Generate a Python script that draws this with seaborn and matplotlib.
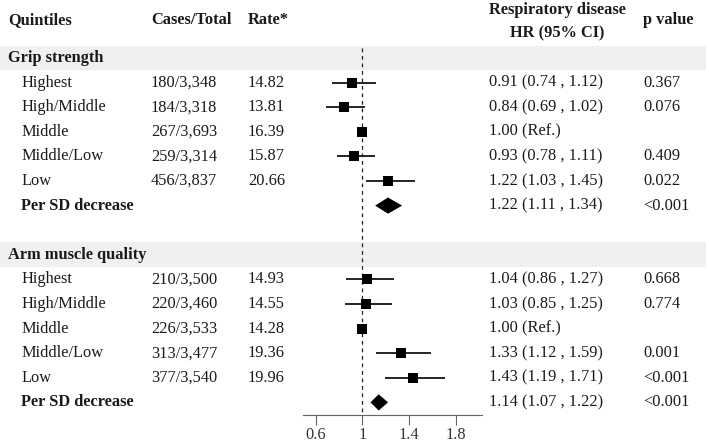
import numpy as np
import pandas as pd
import matplotlib
matplotlib.use("Agg")
import matplotlib.pyplot as plt
import matplotlib.transforms as mtransforms
from matplotlib.patches import Rectangle
import seaborn as sns

# data
sections = ["Grip strength", "Arm muscle quality"]
quintiles = ["Highest", "High/Middle", "Middle", "Middle/Low", "Low", "Per SD decrease"]

grip_cases = ["180/3,348", "184/3,318", "267/3,693", "259/3,314", "456/3,837", ""]
grip_rate = ["14.82", "13.81", "16.39", "15.87", "20.66", ""]
grip_hr = [0.91, 0.84, 1.00, 0.93, 1.22, 1.22]
grip_lo = [0.74, 0.69, 1.00, 0.78, 1.03, 1.11]
grip_hi = [1.12, 1.02, 1.00, 1.11, 1.45, 1.34]
grip_p = ["0.367", "0.076", "", "0.409", "0.022", "<0.001"]

arm_cases = ["210/3,500", "220/3,460", "226/3,533", "313/3,477", "377/3,540", ""]
arm_rate = ["14.93", "14.55", "14.28", "19.36", "19.96", ""]
arm_hr = [1.04, 1.03, 1.00, 1.33, 1.43, 1.14]
arm_lo = [0.86, 0.85, 1.00, 1.12, 1.19, 1.07]
arm_hi = [1.27, 1.25, 1.00, 1.59, 1.71, 1.22]
arm_p = ["0.668", "0.774", "", "0.001", "<0.001", "<0.001"]

xticks = [0.6, 1, 1.4, 1.8]

rows = []
for k, (cases, rate, hr, lo, hi, p) in enumerate([
        (grip_cases, grip_rate, grip_hr, grip_lo, grip_hi, grip_p),
        (arm_cases, arm_rate, arm_hr, arm_lo, arm_hi, arm_p)]):
    for i in range(6):
        rows.append(dict(section=sections[k], row=k * 8 + 1 + i, label=quintiles[i],
                         cases=cases[i], rate=rate[i], hr=hr[i], lo=lo[i], hi=hi[i],
                         p=p[i], summary=(i == 5)))
df = pd.DataFrame(rows)

sns.set_theme(style="white")
plt.rcParams['font.family'] = ['Liberation Serif', 'DejaVu Serif']
fs = 11.8

W, H = 709, 444
fig = plt.figure(figsize=(W / 100, H / 100), dpi=100)
ax_px = (303, 482, 415)  # left, right, bottom of forest axis in pixels
ax = fig.add_axes([ax_px[0] / W, 1 - ax_px[2] / H, (ax_px[1] - ax_px[0]) / W, ax_px[2] / H])
ax.patch.set_visible(False)
y0, step = 58, 24.6
x_per_px = 0.4 / 46.8
ax.set_xlim(1 - (362.3 - ax_px[0]) * x_per_px, 1 + (ax_px[1] - 362.3) * x_per_px)
ax.set_ylim((ax_px[2] - y0) / step, -y0 / step)

def py(pix):
    return (pix - y0) / step

tr = mtransforms.blended_transform_factory(fig.transFigure, ax.transData)

# grey section bands
for k in range(2):
    fig.add_artist(Rectangle((0, k * 8 - 0.5), 706 / W, 1.0, transform=tr,
                             facecolor="#eff1f0", edgecolor="none", zorder=-5))

# reference line
ax.vlines(1, py(48), py(413), colors="#222222", linestyles=(0, (3, 3)), linewidth=0.9)

pts = df[~df.summary]
ax.hlines(pts.row, pts.lo, pts.hi, colors="black", linewidth=1.2)
sns.scatterplot(data=pts, x="hr", y="row", marker="s", s=42, color="black",
                edgecolor="black", linewidth=0, ax=ax, legend=False, zorder=3)

for _, r in df[df.summary].iterrows():
    ax.fill([r.lo, r.hr, r.hi, r.hr], [r.row, r.row - 0.33, r.row, r.row + 0.33],
            color="black", lw=0)

# axis
sns.despine(ax=ax, left=True, top=True, right=True)
ax.set_yticks([])
ax.set_xticks(xticks)
ax.set_xticklabels(["0.6", "1", "1.4", "1.8"], fontsize=fs)
ax.tick_params(axis="x", bottom=True, direction="out", length=7.5, width=0.8,
               colors="#666666", labelcolor="#333333", pad=1)
ax.spines["bottom"].set_color("#666666")
ax.spines["bottom"].set_linewidth(0.8)
ax.set_xlabel("")
ax.set_ylabel("")

def put(xpix, y, s, **kw):
    ax.text(xpix / W, y, s, transform=tr, fontsize=fs, va="center", clip_on=False,
            color="#1a1a1a", **kw)

# header
put(8, py(20), "Quintiles", fontweight="bold")
put(151, py(20), "Cases/Total", fontweight="bold")
put(248, py(20), "Rate*", fontweight="bold")
put(557, py(10), "Respiratory disease", fontweight="bold", ha="center")
put(557, py(33), "HR (95% CI)", fontweight="bold", ha="center")
put(643, py(20), "p value", fontweight="bold")

for k, sec in enumerate(sections):
    put(8, k * 8, sec, fontweight="bold")

for _, r in df.iterrows():
    put(21, r.row, r.label, fontweight="bold" if r.summary else "normal")
    put(151, r.row, r.cases)
    put(248, r.row, r.rate)
    if r.lo == r.hi:
        hr_txt = f"{r.hr:.2f} (Ref.)"
    else:
        hr_txt = f"{r.hr:.2f} ({r.lo:.2f} , {r.hi:.2f})"
    put(489, r.row, hr_txt)
    put(643, r.row, r.p)

fig.savefig("out.png", dpi=100)
